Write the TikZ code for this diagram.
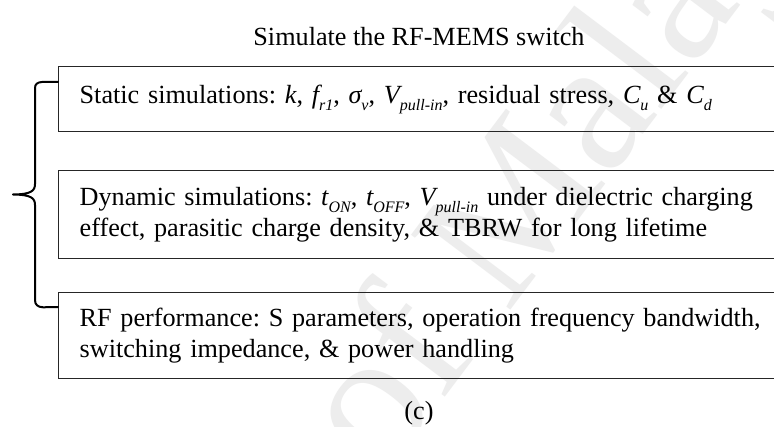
\documentclass[tikz,border=0pt]{standalone}
\usepackage{fontspec}
\setmainfont{Liberation Serif}
\frenchspacing
% italic symbol with a lowered, smaller italic index
\newcommand\lowsub[1]{\raisebox{-0.27em}{\fontsize{16}{16}\selectfont\itshape #1}}
\newcommand\sym[1]{{\itshape #1}}
\tikzset{
  plain/.style={font=\fontsize{26.2}{30.5}\selectfont, inner sep=0pt},
  simbox/.style={draw=black!85, line width=1.3pt, anchor=north west,
    text width=740pt, align=left,
    inner xsep=21pt, inner ysep=0pt, font=\fontsize{26.2}{30.5}\selectfont},
  bracepen/.style={line width=2pt, line cap=round, line join=round},
  watermark/.style={text=black!7, font=\fontsize{190}{190}\selectfont, rotate=53, inner sep=0pt}
}
\begin{document}
\begin{tikzpicture}[x=1pt, y=-1pt]
  \useasboundingbox (0,0) rectangle (774,427);
  \clip (0,0) rectangle (774,427);
  \fill[white] (0,0) rectangle (774,427);

  % faint watermark behind everything
  \node[watermark, anchor=base west] (wm) at (-128,1158) {University of Malaya};

  % heading and caption
  \node[plain, anchor=base] (title) at (419,46) {Simulate the RF-MEMS switch};
  \node[plain, anchor=base] (caption) at (419,420) {(c)};

  % the three simulation groups
  \node[simbox, minimum height=65pt] (static) at (58,66)
    {Static simulations: \sym{k}, \sym{f}\lowsub{r1}, \sym{σ}\lowsub{v}, \sym{V}\lowsub{pull-in}, residual stress, \sym{C}\lowsub{u} \& \sym{C}\lowsub{d}};
  \node[simbox, minimum height=88pt] (dynamic) at (58,170)
    {Dynamic simulations: \sym{t}\lowsub{ON}, \sym{t}\lowsub{OFF}, \sym{V}\lowsub{pull-in} under dielectric charging\\
     effect, parasitic charge density, \& TBRW for long lifetime};
  \node[simbox, minimum height=86pt] (rf) at (58,292)
    {RF performance: S parameters, operation frequency bandwidth,\\
     switching impedance, \& power handling};

  % curly brace grouping the three boxes
  \coordinate (tip) at (13,194.5);
  \draw[bracepen]
    ([yshift=-16pt]static.north west) -- ++(-16,0)
    .. controls +(-4.5,0.3) and +(0,-4) .. ++(-7,6)
    -- (35,184)
    .. controls (35,191) and (31,194.3) .. (tip)
    .. controls (31,194.7) and (35,198) .. (35,205)
    -- (35,300)
    .. controls (35,305) and (38,307) .. (43,307.3)
    -- ([yshift=-15pt]rf.north west);
\end{tikzpicture}
\end{document}
